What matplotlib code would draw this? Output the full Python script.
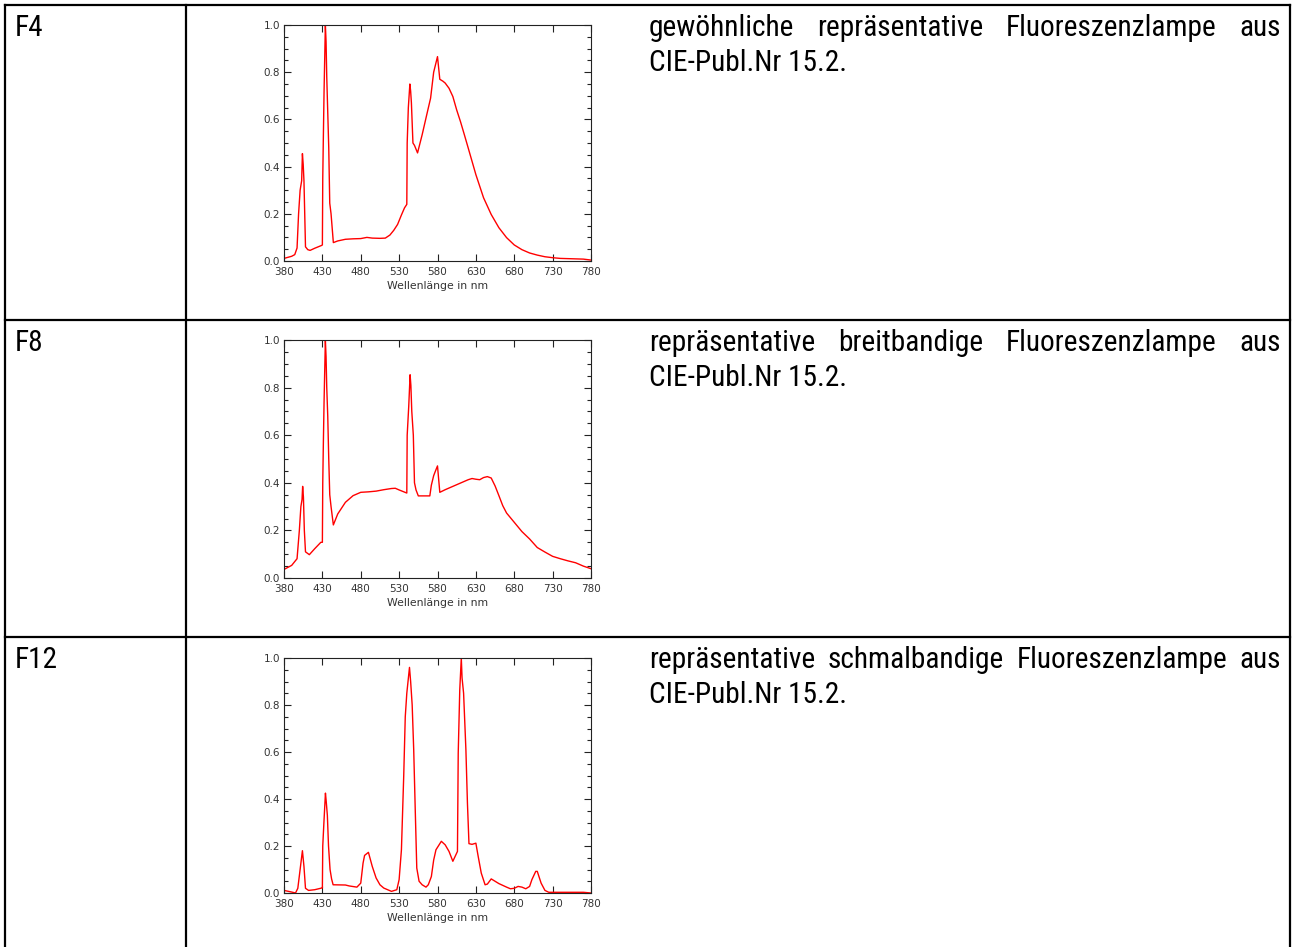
"""Relative Spektralverteilungen der CIE-Leuchtstofflampen F4, F8 und F12.

Tabelle mit drei Zeilen : Name der Lampe, kleines Spektrum (normiert auf
das Maximum, 380-780 nm) und eine kurze Beschreibung im Blocksatz.
Die Werte wurden aus der Vorlage abgelesen.
"""

import matplotlib

matplotlib.use("Agg")  # kein Display : direkt in eine PNG-Datei
import matplotlib.pyplot as plt
from matplotlib.ticker import MultipleLocator

# --- Daten -----------------------------------------------------------------
LAMPEN = ["F4", "F8", "F12"]
BESCHREIBUNG = [
    "gewöhnliche repräsentative Fluoreszenzlampe aus",
    "repräsentative breitbandige Fluoreszenzlampe aus",
    "repräsentative schmalbandige Fluoreszenzlampe aus",
]
QUELLE = "CIE-Publ.Nr 15.2."
WL_TICKS = [380, 430, 480, 530, 580, 630, 680, 730, 780]

F4_WL = [380, 390, 394, 397, 399, 401, 403, 404, 405, 406, 407, 408, 411,
         414, 420, 429, 430, 430.5, 431.3, 432.2, 433.9, 434.8, 435.7, 437,
         438.3, 439.6, 441.3, 444.3, 450, 460, 470, 480, 488, 495, 505, 512,
         518, 523, 528, 533, 537, 540, 540.5, 542, 544, 545, 546, 548, 550,
         554, 560, 566, 571, 575, 580, 583, 587, 590, 595, 600, 605, 610,
         615, 620, 630, 640, 650, 660, 670, 680, 690, 700, 710, 720, 730,
         740, 750, 770, 780]
F4_REL = [0.011, 0.02, 0.027, 0.055, 0.2, 0.3, 0.34, 0.455, 0.41, 0.34, 0.2,
          0.06, 0.048, 0.045, 0.054, 0.066, 0.068, 0.35, 0.53, 0.72, 1.0,
          0.93, 0.78, 0.63, 0.48, 0.245, 0.2, 0.078, 0.085, 0.092, 0.094,
          0.095, 0.1, 0.097, 0.096, 0.097, 0.11, 0.13, 0.155, 0.195, 0.225,
          0.24, 0.5, 0.65, 0.75, 0.72, 0.67, 0.5, 0.49, 0.458, 0.535, 0.62,
          0.69, 0.8, 0.866, 0.77, 0.762, 0.754, 0.732, 0.697, 0.64, 0.59,
          0.535, 0.479, 0.366, 0.268, 0.197, 0.141, 0.099, 0.068, 0.048,
          0.034, 0.025, 0.018, 0.014, 0.011, 0.01, 0.008, 0.004]

F8_WL = [380, 390, 397, 400, 402, 403.5, 404.3, 405.3, 406.5, 408, 413, 420,
         428, 430, 430.5, 431.3, 432.2, 433.9, 434.8, 435.7, 437, 438.3,
         439.6, 441.3, 444.3, 450, 460, 470, 480, 490, 500, 510, 520, 525,
         530, 540, 540.5, 542.5, 544.3, 545.3, 546.5, 548.5, 550, 552, 555,
         570, 572, 575, 578, 580, 583, 590, 600, 610, 620, 625, 630, 635,
         640, 645, 650, 655, 660, 665, 670, 680, 690, 700, 710, 720, 730,
         740, 750, 760, 770, 780]
F8_REL = [0.036, 0.053, 0.081, 0.2, 0.3, 0.33, 0.385, 0.34, 0.2, 0.11, 0.098,
          0.123, 0.15, 0.15, 0.4, 0.57, 0.74, 1.0, 0.93, 0.8, 0.68, 0.5,
          0.35, 0.3, 0.223, 0.269, 0.318, 0.346, 0.36, 0.362, 0.365, 0.371,
          0.376, 0.377, 0.37, 0.357, 0.6, 0.72, 0.854, 0.81, 0.7, 0.6, 0.4,
          0.37, 0.345, 0.345, 0.39, 0.43, 0.455, 0.471, 0.36, 0.371, 0.385,
          0.399, 0.413, 0.418, 0.415, 0.413, 0.422, 0.426, 0.42, 0.387,
          0.346, 0.304, 0.273, 0.234, 0.195, 0.164, 0.128, 0.109, 0.091,
          0.081, 0.072, 0.064, 0.05, 0.039]

F12_WL = [380, 390, 395, 398, 401, 404, 406, 408, 412, 420, 429, 430, 430.5,
          432, 434, 435, 436.5, 438, 440, 442, 444, 460, 465, 475, 480, 483,
          485, 490, 495, 500, 505, 510, 520, 527, 530, 533, 536, 538, 540,
          543.5, 545, 547, 549, 551, 553, 556, 560, 565, 568, 572, 575, 578,
          585, 590, 595, 600, 603, 606, 607, 609, 611, 612, 614, 617, 619,
          621, 625, 628, 630, 633, 637, 642, 645, 650, 655, 660, 670, 675,
          680, 685, 690, 695, 700, 703, 708, 710, 715, 720, 725, 770, 780]
F12_REL = [0.011, 0.004, 0.0, 0.02, 0.1, 0.18, 0.113, 0.02, 0.011, 0.014,
           0.021, 0.022, 0.2, 0.3, 0.425, 0.39, 0.33, 0.2, 0.1, 0.06, 0.035,
           0.034, 0.03, 0.025, 0.042, 0.127, 0.16, 0.173, 0.113, 0.064,
           0.035, 0.021, 0.007, 0.014, 0.057, 0.184, 0.5, 0.75, 0.85, 0.96,
           0.9, 0.8, 0.61, 0.354, 0.106, 0.05, 0.035, 0.025, 0.035, 0.07,
           0.14, 0.184, 0.22, 0.205, 0.177, 0.135, 0.156, 0.177, 0.595,
           0.864, 1.0, 0.915, 0.85, 0.61, 0.383, 0.21, 0.207, 0.21, 0.212,
           0.156, 0.085, 0.035, 0.038, 0.06, 0.05, 0.04, 0.025, 0.018, 0.02,
           0.028, 0.025, 0.018, 0.028, 0.057, 0.092, 0.092, 0.042, 0.011,
           0.003, 0.003, 0.0]

SPEKTREN = [(F4_WL, F4_REL), (F8_WL, F8_REL), (F12_WL, F12_REL)]

# --- Layout (in Pixeln der Vorlage) ----------------------------------------
BREITE, HOEHE = 1295, 947
ZEILEN_OBEN = [5, 320, 637]          # Oberkante jeder Tabellenzeile
ACHSE_OBEN = [25, 340, 658]          # y-Pixel von 1.0
ACHSE_UNTEN = [261, 578, 893]        # y-Pixel von 0.0
ACHSE_LINKS, ACHSE_RECHTS = 284, 591
TEXT_LINKS, TEXT_RECHTS = 649, 1281
# schmale Grotesk ähnlich Arial Narrow, sonst DejaVu Sans Condensed
SCHRIFT = dict(family=["Roboto Condensed", "DejaVu Sans"],
               fontstretch="condensed", fontsize=21.2)


def zeichne_spektrum(fig, oben, unten, wl, rel):
    """Ein kleines Spektrum im IDL-Stil (Ticks innen, rote Linie)."""
    ax = fig.add_axes([ACHSE_LINKS / BREITE, 1 - unten / HOEHE,
                       (ACHSE_RECHTS - ACHSE_LINKS) / BREITE,
                       (unten - oben) / HOEHE])
    ax.plot(wl, rel, color="red", linewidth=1.0)
    ax.set_xlim(380, 780)
    ax.set_ylim(0, 1)
    ax.set_xticks(WL_TICKS)
    ax.yaxis.set_major_locator(MultipleLocator(0.2))
    ax.yaxis.set_minor_locator(MultipleLocator(0.05))
    ax.yaxis.set_major_formatter(lambda v, _: f"{v:.1f}")
    ax.tick_params(which="both", direction="in", top=True, right=True,
                   width=0.8, color="#222222", labelsize=7.5,
                   labelcolor="#333333")
    ax.tick_params(axis="x", pad=4)
    ax.tick_params(axis="y", pad=3)
    ax.tick_params(which="major", length=5)
    ax.tick_params(which="minor", length=3)
    for sp in ax.spines.values():
        sp.set_linewidth(0.8)
        sp.set_color("#222222")
    ax.set_xlabel("Wellenlänge in nm", fontsize=7.8, color="#333333",
                  labelpad=3)


def main():
    fig = plt.figure(figsize=(BREITE / 100, HOEHE / 100), dpi=100)

    # Hintergrund-Achse in Pixelkoordinaten für Tabelle und Texte
    bg = fig.add_axes([0, 0, 1, 1])
    bg.set_xlim(0, BREITE)
    bg.set_ylim(HOEHE, 0)
    bg.axis("off")

    lw = 1.6
    bg.plot([5, 1290], [5, 5], color="black", lw=lw)
    bg.plot([5, 5], [5, HOEHE], color="black", lw=lw)
    bg.plot([1290, 1290], [5, HOEHE], color="black", lw=lw)
    bg.plot([186, 186], [5, HOEHE], color="black", lw=lw)
    for y in ZEILEN_OBEN[1:]:
        bg.plot([5, 1290], [y, y], color="black", lw=lw)

    renderer = fig.canvas.get_renderer()
    for i, lampe in enumerate(LAMPEN):
        basis = ZEILEN_OBEN[i] + 31
        bg.text(15, basis, lampe, va="baseline", ha="left", **SCHRIFT)

        # erste Zeile im Blocksatz : Wörter messen und verteilen
        woerter = BESCHREIBUNG[i].split()
        texte = [bg.text(0, basis, w, va="baseline", ha="left", **SCHRIFT)
                 for w in woerter]
        breiten = [t.get_window_extent(renderer).width for t in texte]
        luecke = (TEXT_RECHTS - TEXT_LINKS - sum(breiten)) / (len(woerter) - 1)
        if luecke < 6:  # Notfall : Schrift zu breit, etwas verkleinern
            faktor = (TEXT_RECHTS - TEXT_LINKS - 6 * (len(woerter) - 1)) / sum(breiten)
            for t in texte:
                t.set_fontsize(SCHRIFT["fontsize"] * faktor)
            breiten = [t.get_window_extent(renderer).width for t in texte]
            luecke = (TEXT_RECHTS - TEXT_LINKS - sum(breiten)) / (len(woerter) - 1)
        x = TEXT_LINKS
        for t, b in zip(texte, breiten):
            t.set_x(x)
            x += b + luecke
        bg.text(TEXT_LINKS, basis + 35, QUELLE, va="baseline", ha="left",
                **SCHRIFT)

        wl, rel = SPEKTREN[i]
        zeichne_spektrum(fig, ACHSE_OBEN[i], ACHSE_UNTEN[i], wl, rel)

    fig.savefig("out.png", dpi=100)
    plt.close(fig)


if __name__ == "__main__":
    main()
